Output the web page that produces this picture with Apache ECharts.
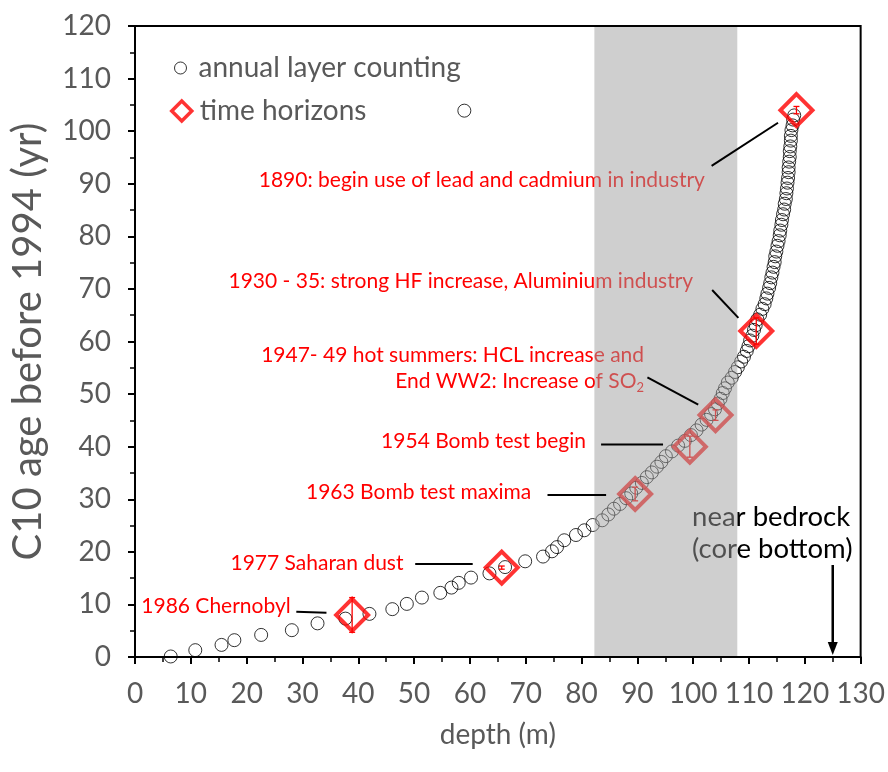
<!DOCTYPE html>
<html>
<head>
<meta charset="utf-8">
<script src="https://cdn.jsdelivr.net/npm/echarts@6/dist/echarts.min.js"></script>
<style>
  html, body { margin: 0; padding: 0; background: #fff; }
  #chart { width: 888px; height: 772px; }
</style>
</head>
<body>
<div id="chart"></div>
<script>
// Ice core dating: depth of each counted annual layer and the matching age (yr before 1994)
const layerDepth = [
  6.4, 10.8, 15.5, 17.8, 22.6, 28.1, 32.7, 37.7, 42.0, 46.1, 48.7, 51.4, 54.7, 56.7, 58.0,
  60.2, 63.5, 66.3, 69.9, 73.1, 74.7, 75.6, 76.9, 79.0, 80.5, 82.0, 83.7,
  84.8, 85.8, 86.9, 88.0, 88.9, 89.8, 90.8, 91.7, 92.6, 93.5, 94.3, 95.1, 96.2, 97.3,
  98.5, 99.6, 100.6, 101.5, 102.4, 103.2, 103.9, 104.4, 104.9, 105.3, 105.7, 106.2,
  106.9, 107.5, 108.0, 108.6, 109.1, 109.6, 109.9, 110.2, 110.6, 110.9, 111.2, 111.5,
  112.0, 112.4, 112.8, 113.1, 113.3, 113.6, 113.8, 114.0, 114.2, 114.4, 114.6, 114.7,
  114.9, 115.1, 115.3, 115.5, 115.6, 115.8, 115.9, 116.1, 116.3, 116.4, 116.6, 116.7,
  116.8, 116.9, 117.0, 117.1, 117.1, 117.2, 117.3, 117.3, 117.4, 117.5, 117.5, 117.6,
  117.8, 117.9, 118.1,
  59.0
];
const layerAge = [
  0.1, 1.3, 2.3, 3.2, 4.2, 5.1, 6.4, 7.3, 8.2, 9.1, 10.1, 11.3, 12.2, 13.2, 14.1,
  15.1, 15.9, 17.1, 18.2, 19.1, 20.1, 20.9, 22.2, 23.2, 24.1, 25.1, 26.0,
  27.1, 28.2, 29.1, 30.2, 31.1, 32.2, 33.1, 34.2, 35.1, 36.2, 37.1, 38.2, 39.1, 40.2,
  41.1, 42.2, 43.1, 44.2, 45.1, 46.2, 47.1, 48.2, 49.1, 50.2, 51.1, 52.2,
  53.1, 54.2, 55.1, 56.2, 57.1, 58.2, 59.1, 60.2, 61.1, 62.2, 63.1, 64.2,
  65.1, 66.2, 67.1, 68.2, 69.1, 70.2, 71.1, 72.2, 73.1, 74.2, 75.1, 76.2,
  77.1, 78.2, 79.1, 80.2, 81.1, 82.2, 83.1, 84.2, 85.1, 86.2, 87.1, 88.2,
  89.1, 90.2, 91.1, 92.2, 93.1, 94.2, 95.1, 96.2, 97.1, 98.2, 99.1, 100.2,
  101.1, 102.2, 103.0,
  103.9
];

// Dated reference horizons (depth, age, age uncertainty)
const horizonDepth = [38.9, 65.7, 89.6, 99.4, 104.0, 111.3, 118.5];
const horizonAge = [8, 17, 31, 40, 46, 62, 104];
const horizonErr = [3.3, 0.3, 1.3, 2.0, 1.0, 2.5, 0.7];

// Horizon captions, the right end of each caption, and the leader line to its marker
const noteText = [
  '1986 Chernobyl',
  '1977 Saharan dust',
  '1963 Bomb test maxima',
  '1954 Bomb test begin',
  '1947- 49 hot summers: HCL increase and\nEnd WW2: Increase of SO{sub|2}',
  '1930 - 35: strong HF increase, Aluminium industry',
  '1890: begin use of lead and cadmium in industry'
];
const noteAnchor = [
  [27.9, 9.7], [48.1, 17.8], [71.0, 31.3], [80.8, 41.0],
  [91.2, 54.9], [100.0, 71.4], [102.1, 90.6]
];
const noteLeader = [
  [28.9, 8.6, 34.3, 8.4],
  [50.2, 17.7, 60.5, 17.7],
  [73.9, 30.8, 84.4, 30.8],
  [83.5, 40.4, 94.6, 40.4],
  [91.8, 53.2, 100.9, 48.0],
  [103.4, 69.8, 108.1, 64.5],
  [103.3, 93.4, 115.2, 101.6]
];

// Shaded depth interval
const bandDepth = [82.3, 107.9];

// Core bottom marker
const bedrockDepth = 125;
const bedrockArrowAge = [17.5, 0.4];
const bedrockText = 'near bedrock\n(core bottom)';
const bedrockAnchor = [99.8, 23.6];

// Axis ticks
const xTicks = [0, 10, 20, 30, 40, 50, 60, 70, 80, 90, 100, 110, 120, 130];
const yTicks = [0, 10, 20, 30, 40, 50, 60, 70, 80, 90, 100, 110, 120];

const FONT = 'Lato, "Open Sans", sans-serif';
const GREY = '#595959';

const chart = echarts.init(document.getElementById('chart'), null, { renderer: 'canvas' });

const option = {
  backgroundColor: '#fff',
  animation: false,
  grid: {
    left: 135, right: 26, top: 26, bottom: 115,
    show: true, borderColor: '#000', borderWidth: 2, z: 20,
    backgroundColor: 'transparent'
  },
  legend: [
    {
      data: [{ name: 'annual layer counting', icon: 'circle',
        itemStyle: { color: 'rgba(0,0,0,0)', borderColor: '#000', borderWidth: 1 } }],
      left: 169, top: 49, itemWidth: 12, itemHeight: 12,
      textStyle: { fontFamily: FONT, fontSize: 28, color: GREY, padding: [0, 0, 0, 7] },
      selectedMode: false
    },
    {
      data: [{ name: 'time horizons', icon: 'diamond',
        itemStyle: { color: 'rgba(0,0,0,0)', borderColor: '#ff0000', borderWidth: 3.5 } }],
      left: 165, top: 92, itemWidth: 20, itemHeight: 20,
      textStyle: { fontFamily: FONT, fontSize: 28, color: GREY, padding: [0, 0, 0, 3] },
      selectedMode: false
    }
  ],
  xAxis: {
    type: 'value', min: xTicks[0], max: xTicks[xTicks.length - 1], interval: 10, z: 20,
    name: 'depth (m)', nameLocation: 'middle', nameGap: 64,
    nameTextStyle: { fontFamily: FONT, fontSize: 28, color: GREY },
    axisLine: { lineStyle: { color: '#000', width: 2 } },
    axisTick: { show: true, inside: false, length: 7, lineStyle: { color: '#000', width: 2 } },
    minorTick: { show: true, splitNumber: 2, length: 5, lineStyle: { color: '#000', width: 1.5 } },
    axisLabel: { fontFamily: FONT, fontSize: 28, color: GREY, margin: 23 },
    splitLine: { show: false }
  },
  yAxis: {
    type: 'value', min: yTicks[0], max: yTicks[yTicks.length - 1], interval: 10, z: 20,
    name: 'C10 age before 1994 (yr)', nameLocation: 'middle', nameGap: 87,
    nameTextStyle: { fontFamily: FONT, fontSize: 40, color: GREY },
    axisLine: { lineStyle: { color: '#000', width: 2 } },
    axisTick: { show: true, inside: false, length: 7, lineStyle: { color: '#000', width: 2 } },
    minorTick: { show: true, splitNumber: 2, length: 5, lineStyle: { color: '#000', width: 1.5 } },
    axisLabel: { fontFamily: FONT, fontSize: 28, color: GREY, margin: 24 },
    splitLine: { show: false }
  },
  series: [
    {
      name: 'annual layer counting',
      type: 'scatter',
      z: 2,
      symbol: 'circle',
      symbolSize: 13,
      itemStyle: { color: 'rgba(0,0,0,0)', borderColor: '#000', borderWidth: 1 },
      emphasis: { disabled: true },
      data: layerDepth.map((d, i) => [d, layerAge[i]])
    },
    {
      name: 'time horizons',
      type: 'scatter',
      z: 3,
      symbol: 'diamond',
      symbolSize: 32,
      itemStyle: { color: 'rgba(0,0,0,0)', borderColor: '#ff0000', borderWidth: 4 },
      emphasis: { disabled: true },
      data: horizonDepth.map((d, i) => [d, horizonAge[i]])
    },
    {
      // uncertainty bars of the horizons
      name: 'horizon error',
      type: 'custom',
      z: 3,
      silent: true,
      data: horizonDepth.map((d, i) => [d, horizonAge[i] - horizonErr[i], horizonAge[i] + horizonErr[i]]),
      encode: { x: 0, y: [1, 2] },
      renderItem: function (params, api) {
        const lo = api.coord([api.value(0), api.value(1)]);
        const hi = api.coord([api.value(0), api.value(2)]);
        const cap = 3;
        const st = { stroke: '#ff0000', lineWidth: 1.3 };
        return {
          type: 'group',
          children: [
            { type: 'line', shape: { x1: lo[0], y1: lo[1], x2: hi[0], y2: hi[1] }, style: st },
            { type: 'line', shape: { x1: lo[0] - cap, y1: lo[1], x2: lo[0] + cap, y2: lo[1] }, style: st },
            { type: 'line', shape: { x1: hi[0] - cap, y1: hi[1], x2: hi[0] + cap, y2: hi[1] }, style: st }
          ]
        };
      }
    },
    {
      // horizon captions
      name: 'captions',
      type: 'custom',
      z: 4,
      silent: true,
      clip: false,
      data: noteAnchor.map((p, i) => [p[0], p[1], i]),
      encode: { x: 0, y: 1 },
      renderItem: function (params, api) {
        const i = api.value(2);
        const p = api.coord([api.value(0), api.value(1)]);
        return {
          type: 'text',
          x: p[0], y: p[1],
          style: {
            text: noteText[i],
            fill: '#ff0000',
            fontFamily: FONT,
            fontSize: 21,
            lineHeight: 26,
            align: 'right',
            verticalAlign: 'middle',
            rich: {
              sub: { fontFamily: FONT, fontSize: 13, fill: '#ff0000', lineHeight: 18, verticalAlign: 'bottom' }
            }
          }
        };
      }
    },
    {
      // core bottom caption
      name: 'bedrock',
      type: 'custom',
      z: 4,
      silent: true,
      clip: false,
      data: [[bedrockAnchor[0], bedrockAnchor[1]]],
      encode: { x: 0, y: 1 },
      renderItem: function (params, api) {
        const p = api.coord([api.value(0), api.value(1)]);
        return {
          type: 'text',
          x: p[0], y: p[1],
          style: {
            text: bedrockText, fill: '#000', fontFamily: FONT, fontSize: 27.5,
            lineHeight: 32, align: 'left', verticalAlign: 'middle'
          }
        };
      }
    },
    {
      // shaded interval, drawn translucent over the data
      name: 'band',
      type: 'custom',
      z: 5,
      silent: true,
      data: [[bandDepth[0], yTicks[0], bandDepth[1], yTicks[yTicks.length - 1]]],
      encode: { x: [0, 2], y: [1, 3] },
      renderItem: function (params, api) {
        const a = api.coord([api.value(0), api.value(3)]);
        const b = api.coord([api.value(2), api.value(1)]);
        return {
          type: 'rect',
          shape: { x: a[0], y: a[1], width: b[0] - a[0], height: b[1] - a[1] },
          style: { fill: 'rgba(160,160,160,0.5)' }
        };
      }
    },
    {
      // leader lines from captions to markers
      name: 'leaders',
      type: 'custom',
      z: 6,
      silent: true,
      data: noteLeader,
      encode: { x: [0, 2], y: [1, 3] },
      renderItem: function (params, api) {
        const a = api.coord([api.value(0), api.value(1)]);
        const b = api.coord([api.value(2), api.value(3)]);
        return {
          type: 'line',
          shape: { x1: a[0], y1: a[1], x2: b[0], y2: b[1] },
          style: { stroke: '#000', lineWidth: 2 }
        };
      }
    },
    {
      // arrow pointing at the core bottom
      name: 'bedrock arrow',
      type: 'custom',
      z: 6,
      silent: true,
      data: [[bedrockDepth, bedrockArrowAge[0], bedrockArrowAge[1]]],
      encode: { x: 0, y: [1, 2] },
      renderItem: function (params, api) {
        const a = api.coord([api.value(0), api.value(1)]);
        const b = api.coord([api.value(0), api.value(2)]);
        return {
          type: 'group',
          children: [
            { type: 'line', shape: { x1: a[0], y1: a[1], x2: b[0], y2: b[1] - 10 },
              style: { stroke: '#000', lineWidth: 2.5 } },
            { type: 'polygon',
              shape: { points: [[b[0] - 5, b[1] - 13], [b[0] + 5, b[1] - 13], [b[0], b[1]]] },
              style: { fill: '#000' } }
          ]
        };
      }
    }
  ]
};

chart.setOption(option);
</script>
</body>
</html>
